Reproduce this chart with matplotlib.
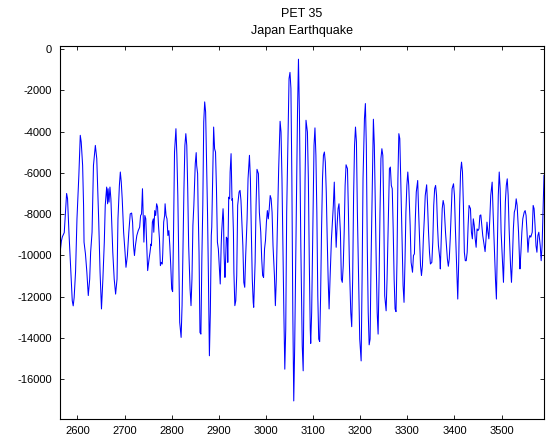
import matplotlib
matplotlib.use("Agg")
import matplotlib.pyplot as plt

plt.rcParams['font.family'] = ['Liberation Sans', 'DejaVu Sans']
plt.rcParams['axes.unicode_minus'] = False

title_lines = ["PET 35", "Japan Earthquake"]

sample = [
    2563, 2566, 2568, 2572, 2577, 2579, 2582, 2586, 2589, 2591, 2593, 2596, 2599, 2603, 2606, 2608,
    2611, 2613, 2614, 2617, 2620, 2623, 2626, 2628, 2631, 2634, 2638, 2641, 2643, 2645, 2648, 2651,
    2654, 2657, 2659, 2662, 2664, 2665, 2667, 2669, 2671, 2673, 2675, 2678, 2681, 2684, 2686, 2689,
    2691, 2693, 2695, 2698, 2701, 2703, 2706, 2709, 2712, 2715, 2717, 2719, 2721, 2723, 2726, 2729,
    2732, 2734, 2736,
    2738, 2740, 2741, 2743, 2745, 2747, 2749, 2752, 2754, 2756, 2757, 2759, 2761, 2762, 2764, 2766,
    2768, 2770, 2772, 2774, 2776, 2778, 2780, 2781, 2783, 2785, 2786, 2788, 2790, 2792, 2794, 2796,
    2798, 2800, 2802, 2804, 2806, 2809, 2811, 2813, 2815, 2817, 2820, 2822, 2824, 2826, 2828, 2830,
    2832, 2834, 2836, 2839, 2841, 2843, 2845, 2847, 2850, 2852, 2853, 2855, 2856, 2858, 2860, 2862,
    2864, 2866, 2868, 2870, 2872, 2874, 2876, 2878, 2880, 2882, 2884, 2885, 2887, 2889, 2891, 2893,
    2895, 2897, 2899, 2901,
    2903, 2905, 2906, 2909, 2910, 2911, 2913, 2914, 2916, 2918, 2919, 2921, 2923, 2924, 2926, 2928,
    2929, 2931, 2932, 2934, 2936, 2938, 2940, 2943, 2945, 2947, 2949, 2951, 2953, 2955, 2957, 2960,
    2962, 2965, 2967, 2969, 2971, 2973, 2974, 2977, 2979, 2981, 2984, 2986, 2989, 2991, 2993, 2995,
    2997, 2999, 3001, 3003, 3005, 3007, 3009, 3011, 3013, 3015, 3018, 3020, 3022, 3024, 3027, 3030,
    3032, 3034, 3036, 3038, 3040, 3042, 3044, 3047, 3049, 3051, 3053, 3055, 3057, 3059, 3061, 3064,
    3067, 3069, 3071, 3074, 3077, 3079,
    3081, 3083, 3085, 3088, 3090, 3092, 3094, 3095, 3097, 3100, 3102, 3104, 3106, 3108, 3110, 3112,
    3114, 3116, 3118, 3120, 3122, 3124, 3126, 3128, 3130, 3132, 3134, 3136, 3139, 3141, 3143, 3145,
    3147, 3149, 3151, 3153, 3155, 3158, 3160, 3162, 3164, 3166, 3168, 3170, 3173, 3175, 3177, 3180,
    3182, 3184, 3186, 3188, 3190, 3192, 3194, 3197, 3199, 3202, 3204, 3206, 3209, 3211, 3213, 3215,
    3217, 3219, 3221, 3223, 3226, 3228, 3230, 3232, 3234, 3236, 3238, 3240, 3242, 3244, 3246, 3248,
    3250, 3252,
    3255, 3257, 3260, 3262, 3264, 3266, 3268, 3270, 3272, 3274, 3276, 3278, 3280, 3282, 3284, 3286,
    3289, 3291, 3293, 3295, 3297, 3299, 3301, 3303, 3306, 3308, 3311, 3313, 3315, 3317, 3319, 3322,
    3324, 3326, 3328, 3330, 3332, 3334, 3336, 3338, 3341, 3343, 3345, 3347, 3349, 3352, 3354, 3356,
    3358, 3360, 3362, 3364, 3366, 3369, 3370, 3372, 3374, 3376, 3378, 3381, 3383, 3385, 3387, 3389,
    3391, 3393, 3395, 3398, 3400, 3402, 3405, 3407, 3409, 3411, 3413, 3415, 3417, 3419, 3421, 3423,
    3425, 3427, 3429, 3431, 3434, 3436, 3438, 3440, 3442, 3444, 3446, 3448, 3450, 3452, 3454, 3456,
    3458, 3460, 3463, 3465, 3467, 3469, 3471, 3473, 3475, 3477, 3480, 3482, 3485, 3487, 3489, 3491,
    3493, 3495, 3497, 3499, 3502, 3504, 3506, 3508, 3510, 3512, 3514, 3516, 3519, 3521, 3523, 3525,
    3527, 3529, 3531, 3533, 3536, 3538, 3539, 3541, 3543, 3545, 3548, 3550, 3552, 3554, 3556, 3558,
    3560, 3562, 3565, 3567, 3569, 3571, 3573, 3575, 3577, 3579, 3582, 3584, 3586, 3588, 3590,
]

amplitude = [
    -9900, -9300, -9100, -8900, -7000, -7250, -8900, -10800, -12200, -12450, -12050, -10800, -8230, -6120, -4180, -4500,
    -5640, -7580, -9360, -9930, -10820, -11950, -11150, -9850, -8880, -5640, -4670, -5310, -6770, -8230, -10820, -12600,
    -11150, -9360, -7580, -6690, -7500, -6770, -7420, -6690, -7260, -8550, -9850, -11150, -11880, -11150, -8230, -6610,
    -5960, -6450, -7260, -8880, -9850, -10580, -10010, -8880, -7990, -7950, -8390, -9530, -10010, -9530, -9040, -8800,
    -8640, -8070, -8000,
    -6770, -8390, -9360, -8070, -8230, -9530, -10740, -10170, -9850, -9450, -9530, -8390, -8230, -8880, -7830, -8070,
    -7500, -7660, -8550, -9200, -10500, -10340, -10420, -9930, -8390, -8070, -7500, -8070, -8230, -9040, -8800, -9530,
    -10500, -11630, -11760, -8720, -4990, -3860, -5150, -7100, -10170, -13250, -13980, -12440, -9530, -6770, -4670, -4100,
    -4670, -6770, -9530, -11630, -12440, -11150, -8550, -7580, -5560, -5020, -5640, -6040, -7580, -9850, -13740, -13820,
    -10170, -7580, -3530, -2560, -3050, -5480, -7910, -11150, -14870, -12770, -9040, -8640, -6290, -3780, -4830, -4990,
    -6770, -9360, -9690, -10500,
    -11390, -9530, -8880, -7740, -8230, -9850, -11070, -10500, -9120, -9200, -10340, -7180, -7260, -5960, -5070, -7340,
    -7260, -8880, -10820, -12440, -12200, -10980, -7580, -6930, -6850, -7340, -8390, -9530, -11310, -11550, -10010, -8230,
    -6290, -5150, -6290, -8880, -11150, -12280, -12520, -10340, -7580, -5830, -6040, -7910, -8880, -10170, -10980, -11070,
    -9690, -9280, -8390, -7830, -8230, -7740, -7100, -7260, -7910, -9530, -10980, -12440, -11150, -8880, -5800, -3500,
    -4020, -6290, -9530, -12770, -15520, -13580, -7910, -4020, -1430, -1130, -1910, -6290, -12770, -17060, -14390, -8720,
    -3050, -490, -3050, -9530, -14390, -15600,
    -11150, -6290, -3450, -4020, -6290, -10340, -13580, -14270, -12770, -7910, -4670, -3820, -5150, -7910, -11960, -14060,
    -14180, -11960, -8720, -6290, -5150, -4990, -5480, -6930, -9200, -11150, -12600, -11150, -9200, -8390, -7580, -6450,
    -8230, -9610, -8550, -7740, -7500, -8880, -11150, -11310, -10500, -8880, -6610, -5610, -5800, -7910, -10340, -12770,
    -13460, -11150, -7100, -4670, -3780, -4500, -7910, -11470, -14060, -15120, -11150, -6290, -3370, -2640, -4670, -9530,
    -12770, -14340, -14060, -10340, -6290, -3400, -4670, -7580, -10340, -12770, -13820, -11150, -7910, -5310, -4830, -5150,
    -7910, -11960,
    -12690, -11150, -7910, -5800, -5720, -6610, -6770, -8720, -11150, -12600, -12730, -10340, -6290, -4100, -4340, -6290,
    -9530, -11470, -12280, -10340, -7910, -6610, -5960, -6610, -8550, -10340, -10820, -10010, -9930, -8230, -6930, -6370,
    -7910, -9200, -10500, -10980, -10500, -9200, -8230, -7100, -6580, -7580, -8880, -9850, -10420, -10340, -9360, -7580,
    -6770, -6610, -7100, -8550, -9530, -10170, -10660, -9200, -7740, -7340, -7580, -8880, -9530, -10170, -10530, -10170,
    -9200, -7910, -6770, -6530, -7100, -8720, -10820, -12120, -10340, -7580, -5960, -5480, -5960, -7580, -9850, -10260,
    -10260, -9850, -8550, -7580, -7740, -8880, -9200, -8230, -8550, -9200, -9610, -8720, -8800, -8720, -8070, -8040,
    -8550, -9040, -9530, -9820, -9200, -8390, -8880, -9200, -8230, -7100, -6450, -7910, -9850, -11150, -12120, -9530,
    -7100, -5960, -6770, -8880, -10340, -11310, -9530, -7420, -6610, -6290, -7100, -8720, -10500, -11310, -10180, -8720,
    -7910, -7740, -7260, -7580, -8880, -10180, -10660, -9850, -8880, -8230, -7910, -7830, -8070, -8880, -9850, -9200,
    -9040, -9120, -8880, -7580, -7740, -8550, -9530, -9850, -9040, -8880, -9530, -10260, -9530, -7910, -6120,
]

x_ticks = list(range(2600, 3501, 100))
y_ticks = list(range(-16000, 1, 2000))

fig = plt.figure(figsize=(5.52, 4.42), dpi=100)
ax = fig.add_axes([0.1087, 0.0514, 0.8768, 0.8445])

ax.plot(sample, amplitude, color=(0, 0, 1), linewidth=0.75)

ax.set_xlim(sample[0], sample[-1])
ax.set_ylim(-17950, 150)
ax.set_xticks(x_ticks)
ax.set_yticks(y_ticks)
ax.tick_params(direction='in', top=True, right=True, length=3, width=0.6,
               labelsize=8, colors='black')
ax.tick_params(axis='x', pad=5)
ax.tick_params(axis='y', pad=6)
for s in ax.spines.values():
    s.set_linewidth(0.8)

ax.set_title("\n".join(title_lines), fontsize=9, pad=9, linespacing=1.55)

fig.savefig("out.png", dpi=100, facecolor='white')
